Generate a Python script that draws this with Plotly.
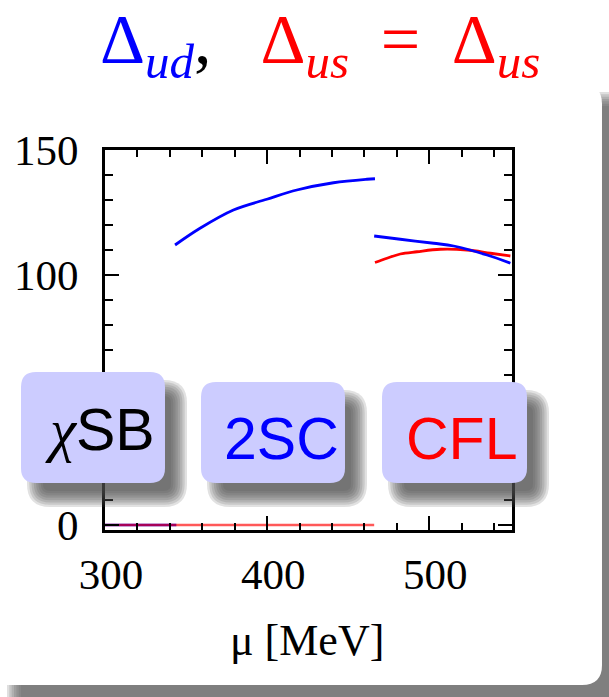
import plotly.graph_objects as go

# ---------------- data ----------------
mu_chisb_ud = [300, 344]
gap_chisb_ud = [0, 0]

mu_zero_us = [300, 466]
gap_zero_us = [0, 0]

mu_2sc = [343.2, 358.6, 379.2, 399.8, 418.3, 440.9, 461.5, 466.5]
gap_2sc_ud = [112.0, 118.7, 126.0, 130.3, 134.0, 136.9, 138.3, 138.5]

mu_cfl_ud = [466.0, 482.1, 502.7, 515.0, 535.6, 550.0]
gap_cfl_ud = [115.6, 114.3, 112.7, 111.6, 108.0, 104.7]

mu_cfl_us = [466.5, 473.9, 482.1, 492.4, 506.8, 523.3, 537.7, 550.0]
gap_cfl_us = [105.0, 106.7, 108.4, 109.3, 110.3, 110.0, 108.7, 107.6]

x_tickvals = [300, 400, 500]
x_ticktext = ["300", "400", "500"]
y_tickvals = [0, 50, 100, 150]
y_ticktext = ["0", "", "100", "150"]

phase_labels = ["<span style='font-family:Liberation Serif'><i>χ</i></span>SB", "2SC", "CFL"]
phase_colors = ["#000000", "#0000ff", "#ff0000"]

# ---------------- layout geometry (pixels) ----------------
W, H = 609, 697
L, R, T, B = 105, 97, 150, 167
PW, PH = W - L - R, H - T - B


def px(x):
    return (x - L) / PW


def py(y):
    return (H - B - y) / PH


def rrect_path(x0, y0, x1, y1, r):
    pts = [
        ("M", [(x0 + r, y0)]),
        ("L", [(x1 - r, y0)]),
        ("Q", [(x1, y0), (x1, y0 + r)]),
        ("L", [(x1, y1 - r)]),
        ("Q", [(x1, y1), (x1 - r, y1)]),
        ("L", [(x0 + r, y1)]),
        ("Q", [(x0, y1), (x0, y1 - r)]),
        ("L", [(x0, y0 + r)]),
        ("Q", [(x0, y0), (x0 + r, y0)]),
    ]
    s = ""
    for cmd, ps in pts:
        s += cmd + " ".join(f"{px(a):.5f},{py(b):.5f}" for a, b in ps) + " "
    return s + "Z"


shapes = []


def blurred(x0, y0, x1, y1, r, color, alpha, spread, n, layer):
    for k in range(n):
        e = -spread + 2 * spread * k / (n - 1)
        rr = max(2, r + e)
        shapes.append(dict(type="path", xref="paper", yref="paper",
                           path=rrect_path(x0 - e, y0 - e, x1 + e, y1 + e, rr),
                           fillcolor=color, opacity=alpha, line=dict(width=0),
                           layer=layer))


# frame shadow and white panel
blurred(14, 99, 650, 720, 20, "#606060", 0.2, 7, 7, "below")
shapes.append(dict(type="path", xref="paper", yref="paper",
                   path=rrect_path(-40, 84, 602, 685, 20),
                   fillcolor="white", line=dict(width=0), layer="below"))

# phase boxes
boxes = [(21, 372, 165, 483), (201, 382, 345, 483), (382, 382, 527, 483)]
for (x0, y0, x1, y1) in boxes:
    blurred(x0 + 14, y0 + 16, x1 + 14, y1 + 16, 15, "#505050", 0.17, 8, 8, "above")
for (x0, y0, x1, y1) in boxes:
    shapes.append(dict(type="path", xref="paper", yref="paper",
                       path=rrect_path(x0, y0, x1, y1, 15),
                       fillcolor="#ccccff", line=dict(width=0), layer="above"))

annotations = []
centers = [(100, 430), (281, 439), (461, 439)]
for (cx, cy), lab, col in zip(centers, phase_labels, phase_colors):
    annotations.append(dict(x=px(cx), y=py(cy), xref="paper", yref="paper",
                            text=lab, showarrow=False, xanchor="center", yanchor="middle",
                            font=dict(family="Liberation Sans", size=59, color=col)))

# title
title_txt = ("<span style='color:#0000ff'>Δ<sub><i>ud</i></sub></span>,\u2002\u2009"
             "<span style='color:#ff0000'>Δ<sub><i>us</i></sub>\u2009 = \u2009Δ<sub><i>us</i></sub></span>")
annotations.append(dict(x=px(320), y=py(0), xref="paper", yref="paper", text=title_txt,
                        showarrow=False, xanchor="center", yanchor="top", borderpad=0,
                        font=dict(family="Liberation Serif", size=70, color="#000000")))

# x axis title
annotations.append(dict(x=px(307), y=py(640), xref="paper", yref="paper", text="μ [MeV]",
                        showarrow=False, xanchor="center", yanchor="middle",
                        font=dict(family="Liberation Serif", size=44, color="#000000")))

fig = go.Figure()
fig.add_trace(go.Scatter(x=mu_chisb_ud, y=gap_chisb_ud, mode="lines",
                         line=dict(color="#0000ff", width=2.5), showlegend=False))
fig.add_trace(go.Scatter(x=mu_zero_us, y=gap_zero_us, mode="lines", opacity=0.65,
                         line=dict(color="#ff0000", width=2.5), showlegend=False))
fig.add_trace(go.Scatter(x=mu_2sc, y=gap_2sc_ud, mode="lines",
                         line=dict(color="#0000ff", width=2.8, shape="spline"), showlegend=False))
fig.add_trace(go.Scatter(x=mu_cfl_us, y=gap_cfl_us, mode="lines",
                         line=dict(color="#ff0000", width=2.8, shape="spline"), showlegend=False))
fig.add_trace(go.Scatter(x=mu_cfl_ud, y=gap_cfl_ud, mode="lines",
                         line=dict(color="#0000ff", width=2.8, shape="spline"), showlegend=False))

axis_common = dict(showline=True, linecolor="black", linewidth=3, mirror="ticks",
                   ticks="inside", tickcolor="black", tickwidth=2, ticklen=14,
                   showgrid=False, zeroline=False,
                   tickfont=dict(family="Liberation Serif", size=43, color="black"))

fig.update_xaxes(range=[300, 551], tickmode="array", tickvals=x_tickvals, ticktext=x_ticktext,
                 minor=dict(tick0=300, dtick=20, ticks="inside", ticklen=7, tickwidth=2,
                            tickcolor="black", showgrid=False),
                 ticklabelstandoff=4, ticklabelshift=6, **axis_common)
fig.update_yaxes(range=[-2, 150], tickmode="array", tickvals=y_tickvals, ticktext=y_ticktext,
                 minor=dict(tick0=0, dtick=10, ticks="inside", ticklen=8, tickwidth=2,
                            tickcolor="black", showgrid=False),
                 ticklabelstandoff=15, **axis_common)

fig.update_layout(width=W, height=H, margin=dict(l=L, r=R, t=T, b=B, pad=0),
                  paper_bgcolor="white", plot_bgcolor="rgba(0,0,0,0)",
                  shapes=shapes, annotations=annotations, showlegend=False)

fig.write_html("out.html")
